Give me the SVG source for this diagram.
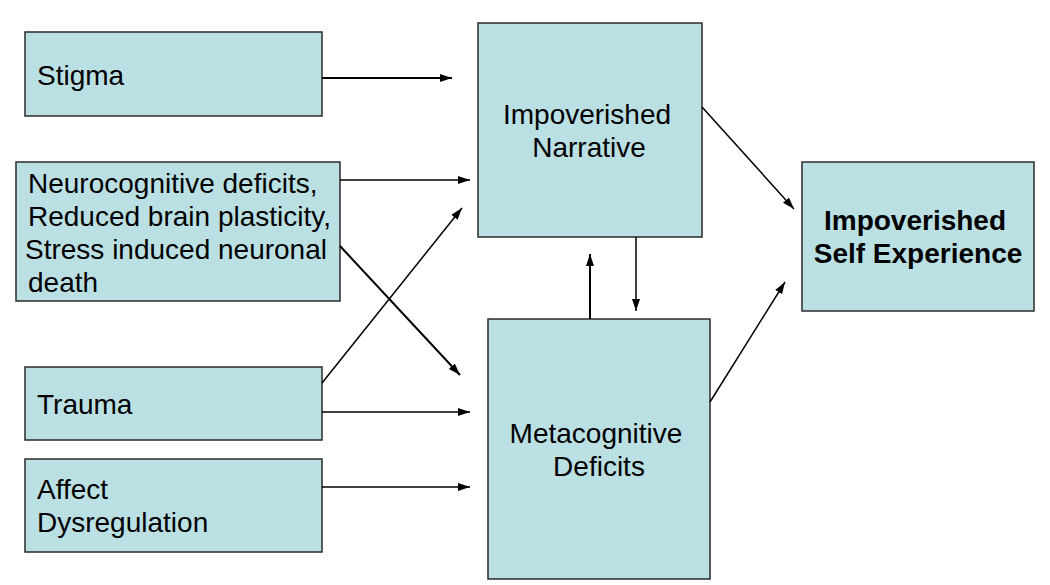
<svg xmlns="http://www.w3.org/2000/svg" width="1050" height="585" viewBox="0 0 1050 585">
<defs>
<marker id="ah" viewBox="0 0 12 10" refX="12" refY="5" markerWidth="12" markerHeight="10" markerUnits="userSpaceOnUse" orient="auto">
<path d="M0,1 L12,5 L0,9 Z" fill="#000"/>
</marker>
</defs>
<style>
.box{fill:#BBE0E3;stroke:#2a2a2a;stroke-width:1.5}
.t{font-family:"Liberation Sans",Arial,sans-serif;font-size:28px;fill:#000}
.b{font-weight:bold}
.c{stroke:#000;stroke-width:2;fill:none;marker-end:url(#ah)}
.d{stroke:#000;stroke-width:1.5;fill:none;marker-end:url(#ah)}
</style>
<rect width="1050" height="585" fill="#fff"/>
<g id="stigma">
<rect class="box" x="25" y="32" width="297" height="84"/>
<text class="t" x="37" y="85">Stigma</text>
</g>
<g id="neuro">
<rect class="box" x="16" y="162" width="324" height="139"/>
<text class="t" x="28" y="193">Neurocognitive deficits,</text>
<text class="t" x="28" y="226">Reduced brain plasticity,</text>
<text class="t" x="25" y="259">Stress induced neuronal</text>
<text class="t" x="28" y="292">death</text>
</g>
<g id="trauma">
<rect class="box" x="25" y="367" width="297" height="73"/>
<text class="t" x="37" y="414">Trauma</text>
</g>
<g id="affect">
<rect class="box" x="25" y="459" width="297" height="93"/>
<text class="t" x="37" y="499">Affect</text>
<text class="t" x="37" y="532">Dysregulation</text>
</g>
<g id="narrative">
<rect class="box" x="478" y="23" width="224" height="214"/>
<text class="t" x="587" y="124" text-anchor="middle">Impoverished</text>
<text class="t" x="589" y="157" text-anchor="middle">Narrative</text>
</g>
<g id="meta">
<rect class="box" x="488" y="319" width="222" height="260"/>
<text class="t" x="596" y="443" text-anchor="middle">Metacognitive</text>
<text class="t" x="599" y="476" text-anchor="middle">Deficits</text>
</g>
<g id="self">
<rect class="box" x="802" y="162" width="232" height="149"/>
<text class="t b" x="915" y="230" text-anchor="middle">Impoverished</text>
<text class="t b" x="918" y="263" text-anchor="middle">Self Experience</text>
</g>
<g id="connectors">
<line class="c" x1="322" y1="78" x2="452" y2="78"/>
<line class="d" x1="340" y1="180" x2="470" y2="180"/>
<line class="c" x1="340" y1="246" x2="460" y2="375"/>
<line class="d" x1="322" y1="383" x2="462" y2="208"/>
<line class="d" x1="322" y1="412" x2="470" y2="412"/>
<line class="d" x1="322" y1="487" x2="470" y2="487"/>
<line class="c" x1="590" y1="319" x2="590" y2="254"/>
<line class="d" x1="636" y1="237" x2="636" y2="311"/>
<line class="d" x1="710" y1="402" x2="785" y2="282"/>
<line class="d" x1="702" y1="107" x2="794" y2="209"/>
</g>
</svg>
